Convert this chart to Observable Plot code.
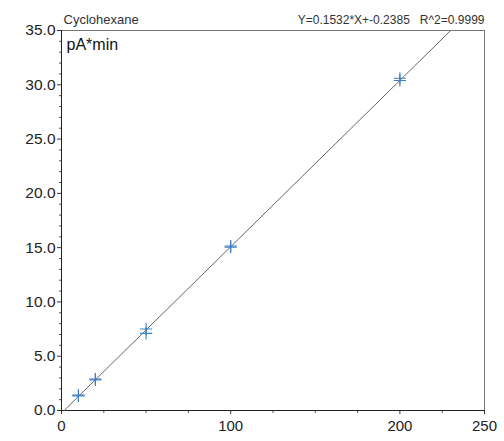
<!DOCTYPE html>
<html>
<head>
<meta charset="utf-8">
<script src="https://cdn.jsdelivr.net/npm/d3@7"></script>
<script src="https://cdn.jsdelivr.net/npm/@observablehq/plot@0.6"></script>
<style>
  html, body { margin: 0; padding: 0; background: #fff; }
  #chart svg { display: block; }
</style>
</head>
<body>
<div id="chart"></div>
<script>
const compound = "Cyclohexane";
const unitLabel = "pA*min";
const amounts = [10, 10, 20, 20, 50, 50, 100, 100, 200, 200];
const areas   = [1.35, 1.42, 2.82, 2.9, 7.1, 7.5, 15.05, 15.15, 30.4, 30.6];
const slope = 0.1532;
const intercept = -0.2385;
const r2 = 0.9999;
const xMajorTicks = [0, 100, 200, 250];
const xMinorTicks = [25, 50, 75, 125, 150, 175, 225];
const yMajorTicks = [0, 5, 10, 15, 20, 25, 30, 35];
const yMinorTicks = d3.range(0, 36).filter(v => v % 5 !== 0);

const points = amounts.map((x, i) => ({x, y: areas[i]}));
const x0 = (0 - intercept) / slope;
const x1 = (35 - intercept) / slope;
const fitLine = [{x: x0, y: slope * x0 + intercept}, {x: x1, y: slope * x1 + intercept}];
const equation = `Y=${slope}*X+${intercept}   R^2=${r2}`;

const font = "Liberation Sans, Arial, sans-serif";

const plot = Plot.plot({
  width: 504,
  height: 441,
  marginLeft: 61,
  marginRight: 20,
  marginTop: 30,
  marginBottom: 31,
  style: {fontFamily: font, fontSize: "15px", color: "#222", background: "#fff"},
  x: {domain: [0, 250], label: null},
  y: {domain: [0, 35], label: null},
  marks: [
    Plot.axisX(xMinorTicks, {tickSize: 3, tickFormat: () => "", stroke: "#555", label: null}),
    Plot.axisX(xMajorTicks, {tickSize: 4, tickPadding: 6, tickFormat: d => String(d), fontSize: 15, stroke: "#333", label: null}),
    Plot.axisY(yMinorTicks, {tickSize: 2, tickFormat: () => "", stroke: "#555", label: null}),
    Plot.axisY(yMajorTicks, {tickSize: 4, tickPadding: 2, tickFormat: d => d.toFixed(1), fontSize: 15.5, stroke: "#333", label: null}),
    Plot.ruleY([35], {stroke: "#777", strokeWidth: 1}),
    Plot.ruleX([250], {stroke: "#777", strokeWidth: 1}),
    Plot.ruleX([0], {stroke: "#222", strokeWidth: 1}),
    Plot.ruleY([0], {stroke: "#222", strokeWidth: 1}),
    Plot.line(fitLine, {x: "x", y: "y", stroke: "#666", strokeWidth: 1}),
    Plot.dot(points, {x: "x", y: "y", symbol: "plus", r: 4, stroke: "#3a7fc2", strokeWidth: 1.1}),
    Plot.text([unitLabel], {frameAnchor: "top-left", dx: 5, dy: 8, fontSize: 16, fill: "#111", textAnchor: "start", lineAnchor: "top"}),
    Plot.text([compound], {frameAnchor: "top-left", dx: 2, dy: -16, fontSize: 13, fill: "#333", textAnchor: "start", lineAnchor: "top"}),
    Plot.text([equation], {frameAnchor: "top-right", dx: 0, dy: -15.5, fontSize: 12, fill: "#333", textAnchor: "end", lineAnchor: "top"})
  ]
});
plot.querySelectorAll("text").forEach(t => t.setAttribute("xml:space", "preserve"));
plot.querySelectorAll("text").forEach(t => t.style.whiteSpace = "pre");
document.getElementById("chart").appendChild(plot);
</script>
</body>
</html>
